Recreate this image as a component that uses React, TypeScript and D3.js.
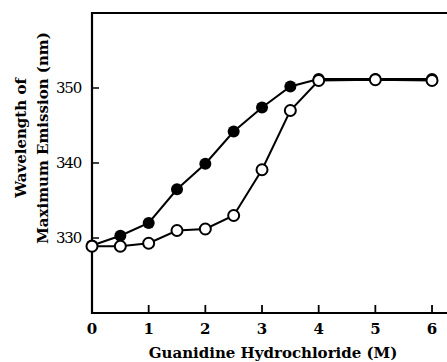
import * as d3 from "d3"
import { useEffect, useRef } from "react"

const conc = [0, 0.5, 1, 1.5, 2, 2.5, 3, 3.5, 4, 5, 6]
const filledSeries = [329, 330.3, 332.0, 336.5, 339.9, 344.2, 347.4, 350.2, 351.2, 351.2, 351.2]
const openSeries = [328.9, 328.9, 329.3, 331.0, 331.2, 333.0, 339.1, 347.0, 351.0, 351.1, 351.0]
const xTicks = [0, 1, 2, 3, 4, 5, 6]
const yTicks = [330, 340, 350]

export default function App() {
    const ref = useRef<SVGSVGElement | null>(null)

    useEffect(() => {
        const width = 447
        const height = 362
        const margin = { top: 13, right: -2, bottom: 49, left: 92 }

        const svg = d3.select(ref.current)
        svg.selectAll("*").remove()
        svg.attr("width", width).attr("height", height)
            .style("display", "block")
            .style("position", "absolute")
            .style("left", "0px")
            .style("top", "0px")
            .style("background", "#fff")

        const font = "'DejaVu Serif', serif"

        const x = d3.scaleLinear()
            .domain([0, 6.3])
            .range([margin.left, margin.left + 56.67 * 6.3])
        const y = d3.scaleLinear()
            .domain([320, 360])
            .range([height - margin.bottom, margin.top])

        const x0 = x(0), y0 = y(320), yTop = y(360)

        // frame: left, bottom, top (right side runs off the page)
        svg.append("path")
            .attr("d", `M${width + 2},${yTop} H${x0} V${y0} H${width + 2}`)
            .attr("fill", "none")
            .attr("stroke", "#000")
            .attr("stroke-width", 2.2)

        svg.append("g")
            .selectAll("line")
            .data(xTicks)
            .join("line")
            .attr("x1", d => x(d)).attr("x2", d => x(d))
            .attr("y1", y0).attr("y2", y0 - 8)
            .attr("stroke", "#000").attr("stroke-width", 1.8)

        svg.append("g")
            .selectAll("line")
            .data(yTicks)
            .join("line")
            .attr("x1", x0).attr("x2", x0 + 7)
            .attr("y1", d => y(d)).attr("y2", d => y(d))
            .attr("stroke", "#000").attr("stroke-width", 1.5)

        svg.append("g")
            .selectAll("text")
            .data(xTicks)
            .join("text")
            .attr("x", d => x(d))
            .attr("y", y0 + 21)
            .attr("text-anchor", "middle")
            .attr("font-family", font)
            .attr("font-weight", "bold")
            .attr("font-size", 15)
            .text(d => d)

        svg.append("g")
            .selectAll("text")
            .data(yTicks)
            .join("text")
            .attr("x", x0 - 11)
            .attr("y", d => y(d) + 5)
            .attr("text-anchor", "end")
            .attr("font-family", font)
            .attr("font-size", 15)
            .attr("letter-spacing", -1.2)
            .text(d => d)

        svg.append("text")
            .attr("x", 273)
            .attr("y", 358)
            .attr("text-anchor", "middle")
            .attr("font-family", font)
            .attr("font-weight", "bold")
            .attr("font-size", 15)
            .text("Guanidine Hydrochloride (M)")

        const yl = svg.append("text")
            .attr("transform", "translate(0,138) rotate(-90)")
            .attr("text-anchor", "middle")
            .attr("font-family", font)
            .attr("font-weight", "bold")
            .attr("font-size", 15)
        yl.append("tspan").attr("x", 0).attr("y", 26).text("Wavelength of")
        yl.append("tspan").attr("x", 0).attr("y", 48).text("Maximum Emission (nm)")

        const line = d3.line<number>()
            .x((_, i) => x(conc[i]))
            .y(d => y(d))

        svg.append("path")
            .datum(filledSeries)
            .attr("d", line)
            .attr("fill", "none")
            .attr("stroke", "#000")
            .attr("stroke-width", 2)

        svg.append("g")
            .selectAll("circle")
            .data(filledSeries)
            .join("circle")
            .attr("cx", (_, i) => x(conc[i]))
            .attr("cy", d => y(d))
            .attr("r", 6)
            .attr("fill", "#000")

        svg.append("path")
            .datum(openSeries)
            .attr("d", line)
            .attr("fill", "none")
            .attr("stroke", "#000")
            .attr("stroke-width", 2)

        svg.append("g")
            .selectAll("circle")
            .data(openSeries)
            .join("circle")
            .attr("cx", (_, i) => x(conc[i]))
            .attr("cy", d => y(d))
            .attr("r", 5.5)
            .attr("fill", "#fff")
            .attr("stroke", "#000")
            .attr("stroke-width", 2)
    }, [])

    return <svg ref={ref} />
}
